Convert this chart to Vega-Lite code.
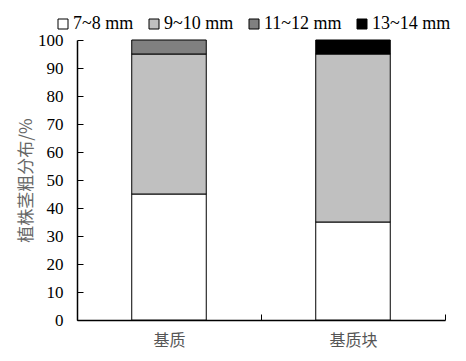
{
  "$schema": "https://vega.github.io/schema/vega-lite/v6.json",
  "autosize": "none",
  "width": 368,
  "height": 280,
  "padding": {"left": 77, "top": 40, "right": 21, "bottom": 41},
  "background": "white",
  "config": {"view": {"stroke": null}},
  "data": {"values": [
    {"g": "基质", "size": "7~8 mm", "k": 1, "v": 45},
    {"g": "基质", "size": "9~10 mm", "k": 2, "v": 50},
    {"g": "基质", "size": "11~12 mm", "k": 3, "v": 5},
    {"g": "基质块", "size": "7~8 mm", "k": 1, "v": 35},
    {"g": "基质块", "size": "9~10 mm", "k": 2, "v": 60},
    {"g": "基质块", "size": "13~14 mm", "k": 4, "v": 5}
  ]},
  "mark": {"type": "bar", "stroke": "black", "strokeWidth": 1, "width": {"band": 0.405}},
  "encoding": {
    "x": {
      "field": "g", "type": "nominal", "sort": ["基质", "基质块"],
      "scale": {"paddingInner": 0, "paddingOuter": 0},
      "axis": {
        "title": null, "labelAngle": 0, "tickBand": "extent",
        "tickSize": -6, "tickColor": "black", "tickWidth": 1, "domainColor": "black", "domainWidth": 1.5,
        "labelFont": "Noto Sans CJK SC", "labelFontSize": 16, "labelColor": "#555555",
        "labelPadding": 18, "grid": false
      }
    },
    "y": {
      "field": "v", "type": "quantitative", "stack": "zero",
      "scale": {"domain": [0, 100]},
      "axis": {
        "title": "植株茎粗分布/%", "values": [0,10,20,30,40,50,60,70,80,90,100],
        "tickSize": -6, "tickColor": "black", "domainColor": "black", "domainWidth": 1.5, "grid": false,
        "labelFont": "Liberation Serif, Times New Roman, serif", "labelFontSize": 17, "labelColor": "black",
        "labelPadding": 20,
        "titleFont": "Noto Sans CJK SC", "titleFontSize": 17, "titleFontWeight": "normal",
        "titleColor": "#666666", "titlePadding": 2
      }
    },
    "color": {
      "field": "size", "type": "nominal",
      "scale": {"domain": ["7~8 mm", "9~10 mm", "11~12 mm", "13~14 mm"], "range": ["#ffffff", "#c0c0c0", "#808080", "#000000"]},
      "legend": {
        "title": null, "orient": "none", "direction": "horizontal", "columns": 4,
        "legendX": -23, "legendY": -25,
        "symbolType": "square", "symbolSize": 100, "symbolStrokeColor": "black", "symbolStrokeWidth": 1,
        "labelFont": "Liberation Serif, Times New Roman, serif", "labelFontSize": 18, "labelColor": "black",
        "labelOffset": 1, "columnPadding": 11
      }
    },
    "order": {"field": "k", "type": "quantitative", "sort": "ascending"}
  }
}
